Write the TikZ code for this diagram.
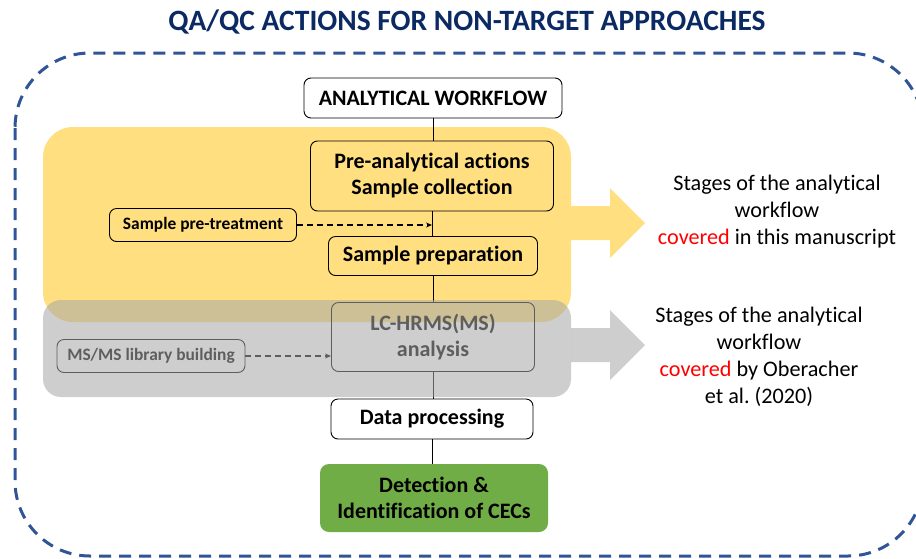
\documentclass[tikz,border=0pt]{standalone}
\usepackage{fontspec}
\setmainfont[Ligatures=NoCommon]{Carlito}
\usepackage{xcolor}
\usetikzlibrary{calc,arrows.meta,positioning}
\definecolor{navy}{HTML}{0B2A63}
\definecolor{frame}{HTML}{2F5597}
\definecolor{yellowbg}{HTML}{FFDF80}
\definecolor{grayov}{HTML}{A8A8A8}
\definecolor{greenbg}{HTML}{70AD47}
\definecolor{redtxt}{HTML}{FF0000}
\tikzset{
  box/.style={draw=black, line width=0.9pt, rounded corners=7pt, align=center,
    inner sep=0pt, font=\bfseries\fontsize{22}{26}\selectfont},
  smallbox/.style={box, font=\bfseries\fontsize{17.4}{20}\selectfont},
  greenbox/.style={box, draw=none, fill=greenbg, rounded corners=9pt},
  flow/.style={draw=black, line width=1pt},
  feed/.style={draw=black, line width=1.3pt, dashed, dash pattern=on 6pt off 4pt, -{Stealth[length=6pt,width=5pt]}},
  note/.style={align=center, font=\fontsize{22.2}{27}\selectfont}
}
\begin{document}
\begin{tikzpicture}[x=1pt, y=-1pt]
  \useasboundingbox (0,0) rectangle (916,558);
  \clip (0,0) rectangle (916,558);

  % title and frame
  \node[text=navy, font=\bfseries\fontsize{29.5}{32}\selectfont] (title) at (467,22) {QA/QC ACTIONS FOR NON-TARGET APPROACHES};
  \draw[frame, line width=3pt, dash pattern=on 12pt off 8pt, rounded corners=75pt] (15,53) rectangle (923,556);

  % yellow band
  \fill[yellowbg, rounded corners=30pt] (43,127) rectangle (571,322);
  \fill[yellowbg] (571,206) -- (610,206) -- (610,188) -- (645,223) -- (610,258) -- (610,240) -- (571,240) -- cycle;

  % workflow
  \node[box, fill=white, minimum width=258pt, minimum height=40pt] (aw) at (433,98) {ANALYTICAL WORKFLOW};
  \node[box, minimum width=243pt, minimum height=70pt] (pa) at (432,176) {Pre-analytical actions\\Sample collection};
  \node[smallbox, minimum width=187pt, minimum height=33pt] (spt) at (203,225) {Sample pre-treatment};
  \node[box, minimum width=209pt, minimum height=39pt] (sp) at (433,256) {Sample preparation};
  \node[box, minimum width=203pt, minimum height=69pt] (lc) at (433,337) {LC-HRMS(MS)\\analysis};
  \node[smallbox, minimum width=188pt, minimum height=33pt] (msl) at (151,356) {MS/MS library building};
  \node[box, fill=white, minimum width=202pt, minimum height=40pt] (dp) at (432,419) {Data processing};
  \node[greenbox, minimum width=228pt, minimum height=68pt] (di) at (434,498) {Detection \&\\Identification of CECs};

  \coordinate (join) at (pa.south |- spt.east);
  \draw[flow] (aw.south) -- (aw.south |- pa.north);
  \draw[flow] (pa.south) -- (pa.south |- sp.north);
  \draw[flow] (sp.south) -- (sp.south |- lc.north);
  \draw[flow] (lc.south) -- (lc.south |- dp.north);
  \draw[flow] (dp.south) -- (dp.south |- di.north);
  \draw[feed] (spt.east) -- (join);
  \draw[feed] (msl.east) -- (msl.east -| lc.west);

  % gray band on top
  \fill[grayov, opacity=0.56, rounded corners=18pt] (43,300) rectangle (571,397);
  \fill[grayov, opacity=0.56] (571,328) -- (610,328) -- (610,310) -- (645,345) -- (610,380) -- (610,362) -- (571,362) -- cycle;

  % notes
  \node[note] (n1) at (777,212) {Stages of the analytical\\workflow\\{\color{redtxt}covered} in this manuscript};
  \node[note] (n2) at (759,357) {Stages of the analytical\\workflow\\{\color{redtxt}covered} by Oberacher\\et al.\ (2020)};
\end{tikzpicture}
\end{document}
